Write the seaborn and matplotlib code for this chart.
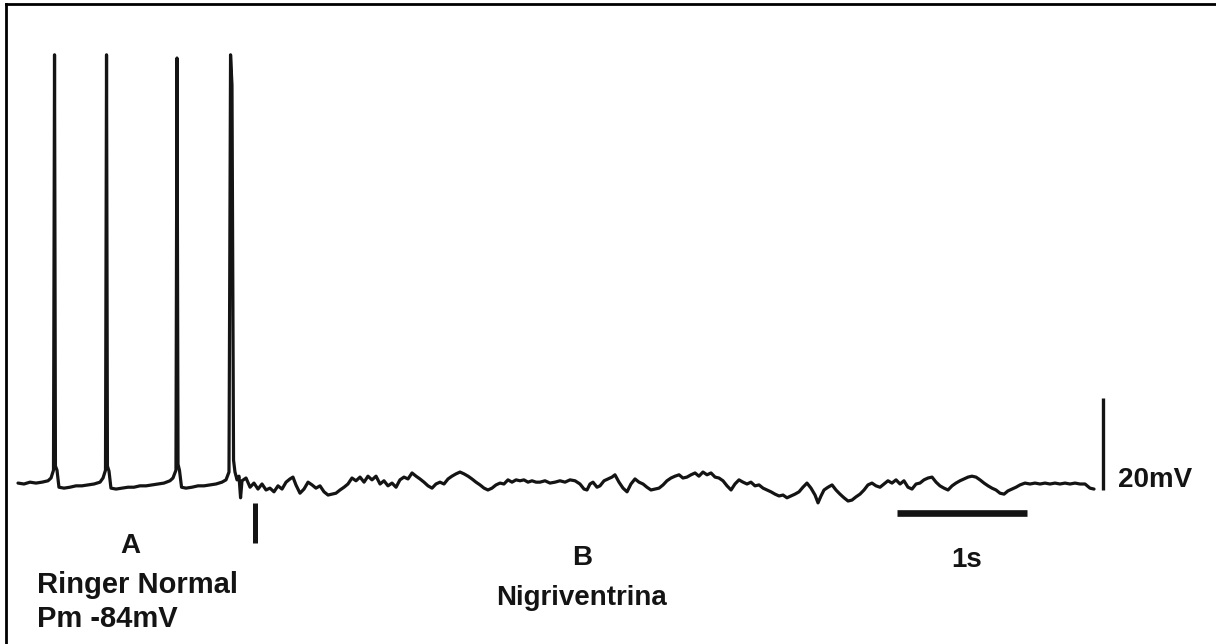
import numpy as np
import pandas as pd
import matplotlib
matplotlib.use("Agg")
import matplotlib.pyplot as plt
import seaborn as sns

# ---------------- data ----------------
# membrane potential trace: time (s) and potential (mV)
trace_t_s = [
    0.000, 0.046, 0.092, 0.138, 0.185, 0.231, 0.254, 0.273, 0.281, 0.288, 0.300, 0.315,
    0.354, 0.400, 0.446, 0.492, 0.538, 0.585, 0.631, 0.654, 0.673, 0.681, 0.688, 0.700,
    0.715, 0.754, 0.800, 0.846, 0.892, 0.938, 0.985, 1.031, 1.077, 1.123, 1.169, 1.192,
    1.215, 1.223, 1.231, 1.242, 1.258, 1.292, 1.338, 1.385, 1.431, 1.477, 1.523, 1.569,
    1.600, 1.623, 1.635, 1.646, 1.658, 1.669, 1.685, 1.700, 1.712, 1.723,
    1.754, 1.785, 1.815, 1.846, 1.877, 1.908, 1.938, 1.969, 2.000, 2.031, 2.062, 2.092,
    2.115, 2.138, 2.169, 2.200, 2.231, 2.262, 2.292, 2.323, 2.354, 2.385, 2.415, 2.446,
    2.477, 2.508, 2.538, 2.569, 2.600, 2.631, 2.662, 2.692, 2.723, 2.754, 2.785, 2.815,
    2.846, 2.877, 2.908, 2.938, 2.969, 3.000, 3.031, 3.062, 3.092, 3.123, 3.154, 3.185,
    3.215, 3.246, 3.277, 3.308, 3.338, 3.369, 3.400, 3.431, 3.462, 3.492, 3.523, 3.554,
    3.585, 3.615, 3.646, 3.677, 3.708, 3.738, 3.769, 3.800, 3.831, 3.862, 3.892, 3.923,
    3.954, 3.985, 4.015, 4.054, 4.092, 4.131, 4.169, 4.208, 4.246, 4.285, 4.323, 4.354,
    4.377, 4.400, 4.423, 4.454, 4.477, 4.508, 4.538, 4.569, 4.592, 4.623, 4.654, 4.685,
    4.715, 4.746, 4.777, 4.808, 4.838, 4.869, 4.900, 4.931, 4.962, 4.992, 5.023, 5.054,
    5.085, 5.115, 5.146, 5.177, 5.208, 5.238, 5.269, 5.300, 5.331, 5.362, 5.392, 5.423,
    5.454, 5.485, 5.515, 5.546, 5.577, 5.608, 5.638, 5.669, 5.700, 5.731, 5.762, 5.792,
    5.823, 5.854, 5.885, 5.915, 5.946, 5.977, 6.008, 6.038, 6.069, 6.100, 6.131, 6.154,
    6.177, 6.200, 6.231, 6.262, 6.292, 6.323, 6.354, 6.385, 6.415, 6.446, 6.477, 6.508,
    6.538, 6.569, 6.600, 6.631, 6.662, 6.692, 6.723, 6.754, 6.785, 6.815, 6.846, 6.877,
    6.908, 6.938, 6.969, 7.000, 7.031, 7.062, 7.092, 7.123, 7.154, 7.185, 7.215, 7.246,
    7.277, 7.308, 7.338, 7.369, 7.400, 7.431, 7.462, 7.492, 7.523, 7.554, 7.585, 7.615,
    7.646, 7.677, 7.708, 7.746, 7.785, 7.823, 7.862, 7.900, 7.938, 7.977, 8.015, 8.054,
    8.092, 8.131, 8.169, 8.208, 8.246, 8.277,
]
trace_v_mV = [
    -83.8, -84.0, -83.6, -83.8, -83.6, -83.3, -82.7, -81.0, 9.3, -80.1, -81.0, -84.7,
    -84.9, -84.7, -84.4, -84.4, -84.2, -84.0, -83.6, -82.7, -81.0, 9.3, -80.1, -81.2,
    -84.9, -85.1, -84.9, -84.7, -84.7, -84.4, -84.4, -84.2, -84.0, -83.8, -83.3, -82.7,
    -81.0, 8.6, -79.7, -81.0, -84.7, -84.9, -84.7, -84.4, -84.4, -84.2, -84.0, -83.6,
    -83.1, -81.4, 9.3, 2.7, -78.8, -81.4, -83.1, -82.3, -87.0, -83.3,
    -82.7, -84.7, -83.8, -85.1, -84.0, -85.3, -84.9, -85.7, -84.4, -85.1, -83.6, -82.9,
    -82.5, -84.2, -86.0, -85.1, -83.6, -84.2, -84.9, -84.4, -85.7, -86.4, -86.2, -86.0,
    -85.3, -84.7, -84.0, -82.7, -83.3, -82.5, -83.6, -82.3, -83.1, -82.3, -84.0, -83.3,
    -84.4, -83.8, -84.7, -83.1, -82.5, -82.9, -81.6, -82.3, -82.9, -83.6, -84.4, -84.9,
    -84.0, -83.6, -84.0, -82.9, -82.3, -81.8, -81.4, -81.8, -82.3, -82.9, -83.6, -84.2,
    -84.9, -85.3, -84.9, -84.2, -83.8, -84.0, -83.1, -83.6, -83.1, -83.3, -83.1, -83.6,
    -83.3, -83.6, -83.6, -83.3, -83.8, -83.6, -83.3, -83.6, -83.1, -83.3, -84.0, -85.1,
    -85.3, -84.0, -83.6, -84.7, -84.4, -83.3, -82.9, -82.5, -82.0, -83.6, -84.9, -85.7,
    -84.0, -82.9, -83.6, -84.0, -84.7, -85.3, -85.1, -84.9, -84.2, -83.3, -82.7, -82.3,
    -82.0, -82.7, -82.5, -82.0, -81.6, -82.3, -81.4, -82.0, -81.6, -82.5, -82.7, -83.3,
    -84.4, -85.3, -84.0, -83.1, -83.6, -84.0, -83.6, -84.4, -84.2, -84.9, -85.3, -85.7,
    -86.2, -86.6, -86.4, -87.0, -86.6, -86.2, -85.7, -84.7, -83.8, -84.9, -86.4, -88.1,
    -86.6, -85.3, -84.7, -84.2, -85.3, -86.2, -87.0, -87.7, -87.5, -86.8, -86.2, -85.3,
    -84.2, -83.8, -84.4, -84.7, -84.0, -83.3, -83.8, -83.1, -84.0, -83.3, -84.7, -85.1,
    -84.0, -83.8, -83.1, -82.7, -82.5, -83.6, -84.4, -84.9, -85.3, -84.4, -83.8, -83.3,
    -82.9, -82.5, -82.3, -82.5, -83.1, -83.8, -84.4, -84.9, -85.3, -86.0, -86.2, -85.5,
    -85.1, -84.7, -84.2, -83.8, -84.0, -83.8, -84.0, -83.8, -84.0, -83.8, -84.0, -83.8,
    -84.0, -83.8, -84.0, -84.0, -84.9, -85.1,
]

# drug application marker (time, potential span)
marker_t_s = [1.823, 1.823]
marker_v_mV = [-88.1, -96.8]

# scale bars: 1 s and 20 mV
time_bar_t_s = [6.762, 7.762]
time_bar_v_mV = [-90.4, -90.4]
volt_bar_t_s = [8.346, 8.346]
volt_bar_v_mV = [-85.3, -65.3]

# labels
label_texts = ["A", "Ringer Normal", "Pm -84mV", "B", "Nigriventrina", "1s", "20mV"]
label_t_s = [0.862, 0.146, 0.146, 4.338, 4.331, 7.300, 8.462]
label_v_mV = [-99.0, -107.7, -115.1, -101.6, -110.3, -102.0, -84.65]
label_ha = ["center", "left", "left", "center", "center", "center", "left"]
label_size = [20, 21, 21, 20, 20, 20, 20]

# ---------------- figure ----------------
sns.set_style("white")
plt.rcParams["font.family"] = ["Liberation Sans", "DejaVu Sans"]

W, H = 1216, 644
fig = plt.figure(figsize=(W / 100, H / 100), dpi=100)
fig.patch.set_facecolor("white")
ax = fig.add_axes([6 / W, 0, 1 - 6 / W, (H - 4) / H])

ink = "#141414"
df = pd.DataFrame({"t": trace_t_s, "v": trace_v_mV})
sns.lineplot(data=df, x="t", y="v", ax=ax, color=ink, linewidth=2.3,
             estimator=None, sort=False)

ax.plot(marker_t_s, marker_v_mV, color=ink, linewidth=3.6, solid_capstyle="butt")
ax.plot(time_bar_t_s, time_bar_v_mV, color=ink, linewidth=4.8, solid_capstyle="butt")
ax.plot(volt_bar_t_s, volt_bar_v_mV, color=ink, linewidth=2.4, solid_capstyle="butt")

for txt, tx, ty, ha, fs in zip(label_texts, label_t_s, label_v_mV, label_ha, label_size):
    ax.text(tx, ty, txt, ha=ha, va="baseline", fontsize=fs, fontweight="bold",
            color=ink)

# px -> data mapping: 130 px per s (t=0 at x=18), 4.6 px per mV (-84 mV at y=484)
ax.set_xlim((6 - 18) / 130, (W - 18) / 130)
ax.set_ylim(-84 - (H - 484) / 4.6, -84 + (484 - 4) / 4.6)
ax.set_xticks([])
ax.set_yticks([])
ax.set_xlabel("")
ax.set_ylabel("")
sns.despine(ax=ax, top=False, right=True, left=False, bottom=True)
for side in ("top", "left"):
    ax.spines[side].set_color("black")
    ax.spines[side].set_linewidth(2.0)

fig.savefig("out.png", dpi=100, facecolor="white")
